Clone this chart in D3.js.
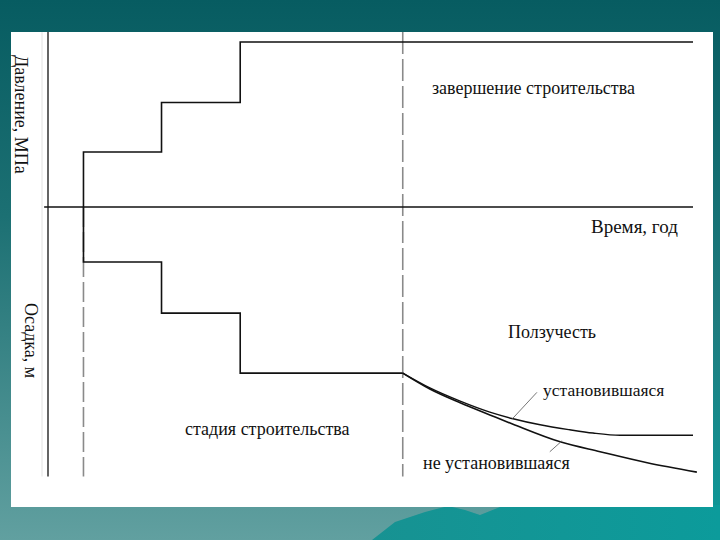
<!DOCTYPE html>
<html>
<head>
<meta charset="utf-8">
<script src="https://cdn.jsdelivr.net/npm/d3@7"></script>
<style>
  html, body { margin: 0; padding: 0; }
  body { width: 720px; height: 540px; overflow: hidden; }
  text { font-family: "Liberation Serif", "DejaVu Serif", serif; fill: #111; }
</style>
</head>
<body>
<div id="chart"></div>
<script>
// Stepped loading (pressure) and settlement diagram

// time axis (arbitrary years), load stages
var pressTimes  = [0.55, 0.55, 1.76, 2.98, 10];
var pressLevels = [0, 1, 1.9, 3, 3];
var settleTimes  = [0.55, 0.55, 1.76, 2.98, 5.5];
var settleLevels = [0, 1, 1.93, 3.02, 3.02];
var constructionStart = 0.55;
var constructionEnd = 5.5;

// creep curves after construction
var steadyTimes  = [5.5, 5.92, 6.39, 6.85, 7.21, 7.63, 8.09, 8.45, 8.87, 10.0];
var steadyLevels = [3.02, 3.29, 3.53, 3.73, 3.85, 3.96, 4.05, 4.11, 4.15, 4.15];
var unsteadyTimes  = [5.5, 5.92, 6.39, 6.85, 7.21, 7.94, 8.56, 9.29, 10.06];
var unsteadyLevels = [3.02, 3.31, 3.56, 3.78, 3.95, 4.27, 4.45, 4.65, 4.82];

var w = 720, h = 540;

var svg = d3.select("#chart").append("svg")
    .attr("width", w)
    .attr("height", h);

// slide background
var defs = svg.append("defs");
var bg = defs.append("linearGradient").attr("id", "bg")
    .attr("x1", 0).attr("y1", 0).attr("x2", 0).attr("y2", 1);
bg.append("stop").attr("offset", "0%").attr("stop-color", "#075c61");
bg.append("stop").attr("offset", "40%").attr("stop-color", "#1c7073");
bg.append("stop").attr("offset", "100%").attr("stop-color", "#61a0a0");
var mt = defs.append("linearGradient").attr("id", "mt")
    .attr("x1", 0).attr("y1", 0).attr("x2", 1).attr("y2", 0);
mt.append("stop").attr("offset", "0%").attr("stop-color", "#179292");
mt.append("stop").attr("offset", "100%").attr("stop-color", "#0c9b9b");
var rs = defs.append("linearGradient").attr("id", "rs")
    .attr("x1", 0).attr("y1", 0).attr("x2", 0).attr("y2", 1);
rs.append("stop").attr("offset", "0%").attr("stop-color", "#075c61");
rs.append("stop").attr("offset", "60%").attr("stop-color", "#1f7c7f");
rs.append("stop").attr("offset", "100%").attr("stop-color", "#0c9a9a");

svg.append("rect").attr("width", w).attr("height", h).attr("fill", "url(#bg)");
svg.append("rect").attr("x", 700).attr("y", 0).attr("width", 20).attr("height", h).attr("fill", "url(#rs)");
svg.append("path")
    .attr("d", "M372,540 L395,522 L425,512 L448,506 L465,510 L480,515 L505,505 L720,505 L720,540 Z")
    .attr("fill", "url(#mt)");

svg.append("rect")
    .attr("x", 11).attr("y", 32)
    .attr("width", 702).attr("height", 475)
    .attr("fill", "white");

// scales
var x = d3.scaleLinear().domain([0, 10]).range([48, 693]);
var yP = d3.scaleLinear().domain([0, 3]).range([207, 42]);
var yS = d3.scaleLinear().domain([0, 5]).range([207, 482]);

// faint scan line next to the axis
svg.append("line")
    .attr("x1", 42).attr("x2", 42)
    .attr("y1", yP(3.18)).attr("y2", yS(4.9))
    .attr("stroke", "#e2e2e2").attr("stroke-width", 1);

// dashed stage lines
svg.append("line")
    .attr("x1", x(constructionStart)).attr("x2", x(constructionStart))
    .attr("y1", yS(0)).attr("y2", yS(4.9))
    .attr("stroke", "#8a8a8a").attr("stroke-width", 1.6)
    .attr("stroke-dasharray", "20,5");
svg.append("line")
    .attr("x1", x(constructionEnd)).attr("x2", x(constructionEnd))
    .attr("y1", yP(3.18)).attr("y2", yS(4.9))
    .attr("stroke", "#8a8a8a").attr("stroke-width", 1.6)
    .attr("stroke-dasharray", "22,5");

// axes
svg.append("line")
    .attr("x1", x(0)).attr("x2", x(0))
    .attr("y1", yP(3.18)).attr("y2", yS(4.9))
    .attr("stroke", "#111").attr("stroke-width", 1.3);
svg.append("line")
    .attr("x1", x(-0.06)).attr("x2", x(10))
    .attr("y1", yP(0)).attr("y2", yP(0))
    .attr("stroke", "#111").attr("stroke-width", 1.3);

// pressure steps
var pLine = d3.line()
    .x(function(d, i) { return x(pressTimes[i]); })
    .y(function(d) { return yP(d); })
    .curve(d3.curveStepAfter);
svg.append("path")
    .attr("d", pLine(pressLevels))
    .attr("fill", "none").attr("stroke", "#111").attr("stroke-width", 1.6);

// settlement steps
var sLine = d3.line()
    .x(function(d, i) { return x(settleTimes[i]); })
    .y(function(d) { return yS(d); })
    .curve(d3.curveStepAfter);
svg.append("path")
    .attr("d", sLine(settleLevels))
    .attr("fill", "none").attr("stroke", "#111").attr("stroke-width", 1.6);

// creep curves
function creep(times, levels) {
    return d3.line()
        .x(function(d, i) { return x(times[i]); })
        .y(function(d) { return yS(d); })
        .curve(d3.curveMonotoneX)(levels);
}
svg.append("path")
    .attr("d", creep(steadyTimes, steadyLevels))
    .attr("fill", "none").attr("stroke", "#111").attr("stroke-width", 1.4);
svg.append("path")
    .attr("d", creep(unsteadyTimes, unsteadyLevels))
    .attr("fill", "none").attr("stroke", "#111").attr("stroke-width", 1.6);

// leader lines
svg.append("line")
    .attr("x1", x(7.58)).attr("y1", yS(3.37))
    .attr("x2", x(7.2)).attr("y2", yS(3.85))
    .attr("stroke", "#666").attr("stroke-width", 0.9);
svg.append("line")
    .attr("x1", x(7.97)).attr("y1", yS(4.25))
    .attr("x2", x(7.78)).attr("y2", yS(4.45))
    .attr("stroke", "#666").attr("stroke-width", 0.9);

// labels
function label(txt, px, py, size) {
    return svg.append("text")
        .attr("x", px).attr("y", py)
        .style("font-size", size + "px")
        .text(txt);
}
label("завершение строительства", 432, 94, 18);
label("Время, год", 591, 233, 19);
label("Ползучесть", 508, 338, 18);
label("установившаяся", 543, 396, 17.5);
label("не установившаяся", 423, 469, 18);
label("стадия строительства", 185, 435, 18);

svg.append("text")
    .attr("transform", "translate(15, 55) rotate(90)")
    .style("font-size", "18px")
    .text("Давление, МПа");
svg.append("text")
    .attr("transform", "translate(25, 303) rotate(90)")
    .style("font-size", "18px")
    .text("Осадка, м");
</script>
</body>
</html>
